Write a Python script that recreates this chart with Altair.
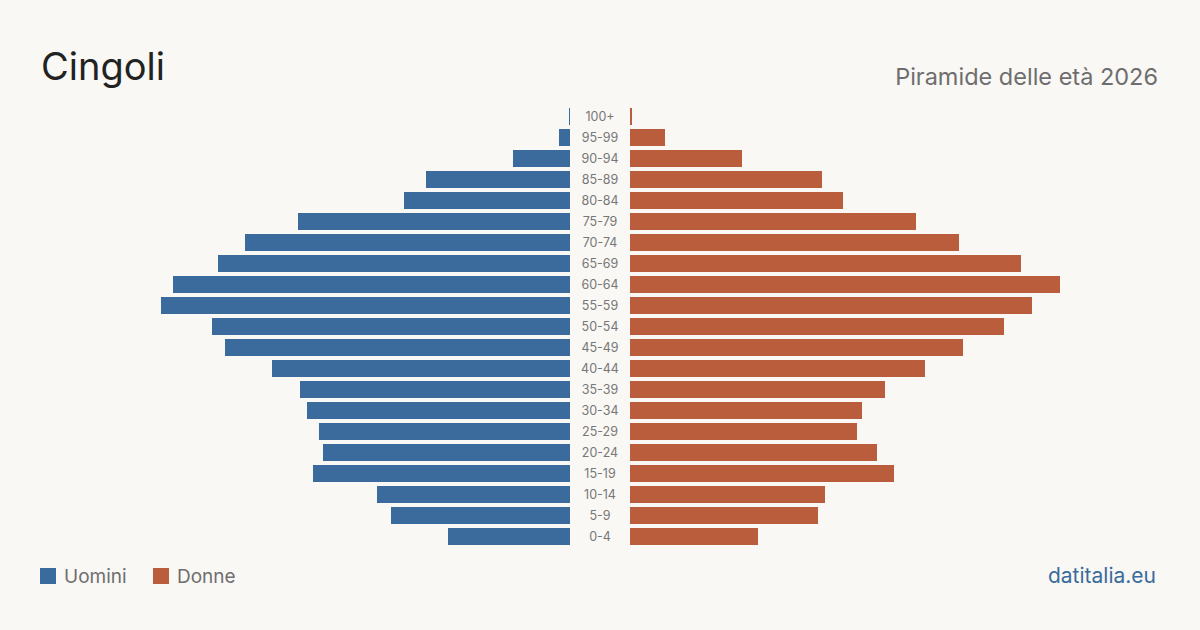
import altair as alt
import pandas as pd

ages = ["100+", "95-99", "90-94", "85-89", "80-84", "75-79", "70-74", "65-69",
        "60-64", "55-59", "50-54", "45-49", "40-44", "35-39", "30-34", "25-29",
        "20-24", "15-19", "10-14", "5-9", "0-4"]
uomini = [1, 11, 57, 144, 166, 272, 325, 352, 397, 409, 358, 345, 298, 270,
          263, 251, 247, 257, 193, 179, 122]
donne = [2, 35, 112, 192, 213, 286, 329, 391, 430, 402, 374, 333, 295, 255,
         232, 227, 247, 264, 195, 188, 128]

BLUE = "#3a6b9c"
ORANGE = "#b95d3c"
BG = "#f9f8f4"
FONT = "Inter"

df = pd.DataFrame({"age": ages, "uomini": uomini, "donne": donne})
one = pd.DataFrame({"k": [0]})

yscale = alt.Scale(domain=ages, range=[106, 547], paddingInner=4/21, paddingOuter=2/21)
ynoax = alt.Y("age:N", scale=yscale, axis=None, sort=ages)

left = alt.Chart(df).mark_bar(color=BLUE).encode(
    x=alt.X("uomini:Q", scale=alt.Scale(domain=[0, 570], range=[570, 0]), axis=None),
    x2=alt.datum(0),
    y=ynoax,
)
right = alt.Chart(df).mark_bar(color=ORANGE).encode(
    x=alt.X("donne:Q", scale=alt.Scale(domain=[0, 570], range=[630, 1200]), axis=None),
    x2=alt.datum(0),
    y=ynoax,
)
labels = alt.Chart(df).mark_text(font=FONT, fontSize=12.5, color="#777777",
                                 align="center", baseline="middle").encode(
    x=alt.value(600), y=ynoax, text="age:N")

title = alt.Chart(one).mark_text(text="Cingoli", font=FONT, fontSize=38, color="#222222",
                                 align="left", baseline="alphabetic").encode(
    x=alt.value(41), y=alt.value(80))
subtitle = alt.Chart(one).mark_text(text="Piramide delle età 2026", font=FONT, fontSize=23.5,
                                    color="#6e6e6e", align="right", baseline="alphabetic").encode(
    x=alt.value(1158), y=alt.value(85))

sq1 = alt.Chart(one).mark_rect(color=BLUE).encode(
    x=alt.value(40), x2=alt.value(56), y=alt.value(568), y2=alt.value(584))
sq2 = alt.Chart(one).mark_rect(color=ORANGE).encode(
    x=alt.value(153), x2=alt.value(169), y=alt.value(568), y2=alt.value(584))
lt1 = alt.Chart(one).mark_text(text="Uomini", font=FONT, fontSize=19, color="#6e6e6e",
                               align="left", baseline="alphabetic").encode(
    x=alt.value(64), y=alt.value(583))
lt2 = alt.Chart(one).mark_text(text="Donne", font=FONT, fontSize=19, color="#6e6e6e",
                               align="left", baseline="alphabetic").encode(
    x=alt.value(177), y=alt.value(583))
src = alt.Chart(one).mark_text(text="datitalia.eu", font=FONT, fontSize=21, color=BLUE,
                               align="right", baseline="alphabetic").encode(
    x=alt.value(1156), y=alt.value(583))

chart = alt.layer(left, right, labels, title, subtitle, sq1, sq2, lt1, lt2, src).resolve_scale(
    x="independent"
).properties(
    width=1200, height=630, padding=0, autosize=alt.AutoSizeParams(type="none"),
    background=BG,
).configure_view(stroke=None)

chart.save("out.html", embed_options={"renderer": "svg", "actions": False})
